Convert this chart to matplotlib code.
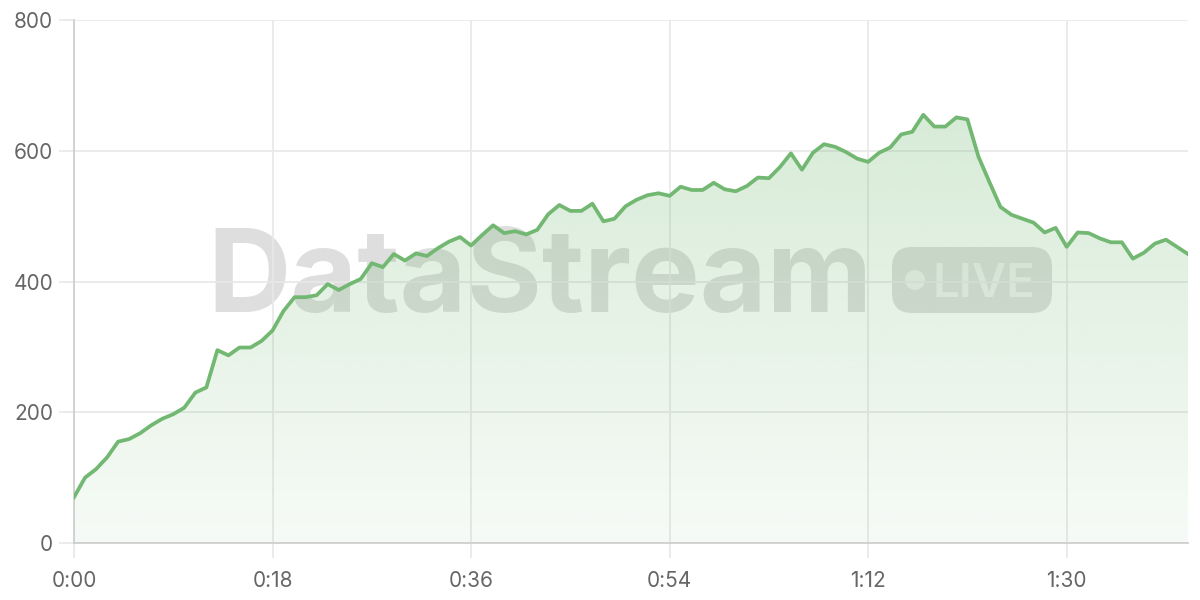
import numpy as np
import matplotlib
matplotlib.use('Agg')
import matplotlib.pyplot as plt
from matplotlib.patches import FancyBboxPatch, Polygon, Circle
from matplotlib.ticker import FixedLocator, FuncFormatter

# values, one per minute
values = [70, 100, 113, 131, 155, 159, 168, 180, 190, 197,
          207, 230, 238, 295, 287, 299, 299, 309, 325, 355,
          376, 376, 379, 396, 387, 396, 404, 428, 422, 442,
          432, 443, 439, 451, 461, 468, 455, 471, 486, 474,
          477, 472, 479, 503, 517, 508, 508, 519, 492, 496,
          515, 525, 532, 535, 531, 545, 540, 540, 551, 541,
          538, 546, 559, 558, 575, 596, 571, 597, 610, 606,
          598, 588, 583, 597, 605, 625, 629, 655, 637, 637,
          651, 648, 591, 552, 514, 502, 496, 490, 475, 482,
          453, 475, 474, 466, 460, 460, 435, 444, 458, 464,
          453, 442]
minutes = np.arange(len(values))
x_ticks = [0, 18, 36, 54, 72, 90]
y_ticks = [0, 200, 400, 600, 800]

green = '#72b872'
grid_c = '#e8e8e8'
text_c = '#666666'

plt.rcParams['font.family'] = ['Inter', 'DejaVu Sans']

fig = plt.figure(figsize=(12, 6), dpi=100)

# watermark layer under the chart, in pixel coordinates
wm = fig.add_axes([0, 0, 1, 1], zorder=0)
wm.set_xlim(0, 1200)
wm.set_ylim(600, 0)
wm.axis('off')
wm.text(540, 312, 'DataStream', ha='center', va='baseline',
        fontsize=83, fontweight='bold', color='#000000', alpha=0.13)
badge = FancyBboxPatch((892, 247), 160, 66,
                       boxstyle='round,pad=0,rounding_size=20',
                       facecolor='#000000', alpha=0.13, edgecolor='none')
wm.add_patch(badge)
wm.add_patch(Circle((915, 280), 10, facecolor='white', alpha=0.55, edgecolor='none'))
wm.text(984, 297, 'LIVE', ha='center', va='baseline', fontsize=34,
        fontweight='semibold', color='white', alpha=0.55)

ax = fig.add_axes([74/1200, 57/600, 1114/1200, 523/600], zorder=1)
ax.patch.set_alpha(0)

ax.set_xlim(0, minutes[-1])
ax.set_ylim(0, 800)

# gradient fill under the line
verts = [(minutes[0], 0)] + list(zip(minutes, values)) + [(minutes[-1], 0)]
poly = Polygon(verts, closed=True, facecolor='none', edgecolor='none')
ax.add_patch(poly)
grad = np.linspace(0.28, 0.06, 256).reshape(-1, 1)
rgba = np.zeros((256, 1, 4))
rgba[..., 0] = 0x72/255
rgba[..., 1] = 0xb8/255
rgba[..., 2] = 0x72/255
rgba[..., 3] = grad
im = ax.imshow(rgba, extent=[minutes[0], minutes[-1], 0, max(values)],
               origin='upper', aspect='auto', zorder=1, interpolation='bilinear')
im.set_clip_path(poly)

ax.plot(minutes, values, color=green, lw=2.7, zorder=6, solid_joinstyle='round')

ax.xaxis.set_major_locator(FixedLocator(x_ticks))
ax.yaxis.set_major_locator(FixedLocator(y_ticks))
ax.xaxis.set_major_formatter(FuncFormatter(lambda v, p: f"{int(v)//60}:{int(v)%60:02d}"))
ax.grid(True, color=grid_c, lw=1.2, zorder=0)
ax.set_axisbelow(True)
for s in ['top', 'right']:
    ax.spines[s].set_visible(False)
ax.spines['left'].set_color('#cccccc')
ax.spines['bottom'].set_color('#cccccc')
ax.spines['left'].set_linewidth(1.2)
ax.spines['bottom'].set_linewidth(1.2)
ax.tick_params(axis='both', colors=grid_c, width=1.2, length=11, labelsize=15,
               labelcolor=text_c)
ax.tick_params(axis='x', pad=9)
ax.tick_params(axis='y', pad=4)

fig.savefig('out.png', dpi=100, facecolor='white')
